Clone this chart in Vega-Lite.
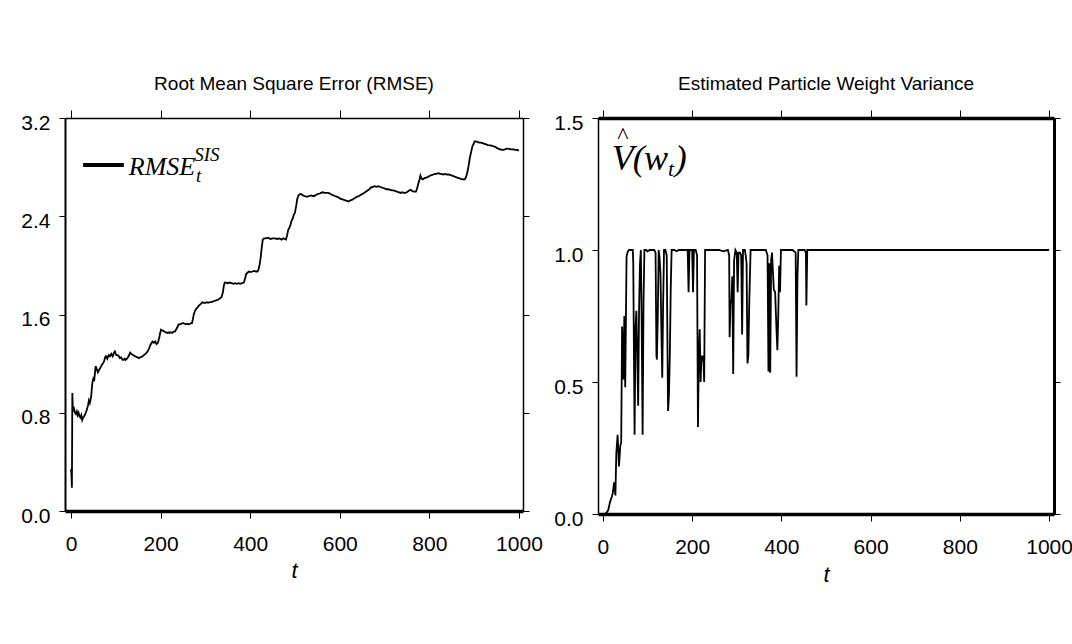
{
  "$schema": "https://vega.github.io/schema/vega-lite/v6.json",
  "background": "white",
  "padding": {"left": 20, "top": 74, "right": 0, "bottom": 10},
  "spacing": 10,
  "config": {
    "view": {"stroke": null},
    "axis": {"grid": false, "domainColor": "black", "tickColor": "black", "labelColor": "black", "labelFont": "Liberation Sans", "labelFontSize": 21, "tickSize": 7, "tickWidth": 1, "domainWidth": 1.5, "labelPadding": 9, "titleColor": "black", "labelFlush": false},
    "title": {"font": "Liberation Sans", "fontSize": 19, "fontWeight": "normal", "color": "black", "offset": 16}
  },
  "datasets": {
    "rmse": [
      {"t":0,"v":0.34},{"t":1,"v":0.30},{"t":2,"v":0.19},{"t":3,"v":0.96},{"t":4,"v":0.85},{"t":5,"v":0.81},{"t":7,"v":0.83},{"t":9,"v":0.80},{"t":11,"v":0.79},{"t":13,"v":0.81},{"t":15,"v":0.78},{"t":17,"v":0.80},{"t":19,"v":0.77},{"t":21,"v":0.76},{"t":23,"v":0.78},{"t":25,"v":0.74},{"t":27,"v":0.76},{"t":29,"v":0.77},{"t":32,"v":0.79},{"t":35,"v":0.82},{"t":38,"v":0.86},{"t":40,"v":0.90},{"t":42,"v":0.88},{"t":45,"v":0.93},{"t":47,"v":1.02},{"t":48,"v":1.05},{"t":50,"v":1.08},{"t":52,"v":1.07},{"t":55,"v":1.18},{"t":57,"v":1.16},{"t":60,"v":1.13},{"t":63,"v":1.15},{"t":66,"v":1.17},{"t":69,"v":1.19},{"t":71,"v":1.20},{"t":74,"v":1.22},{"t":76,"v":1.25},{"t":78,"v":1.26},{"t":81,"v":1.24},{"t":84,"v":1.27},{"t":87,"v":1.26},{"t":90,"v":1.28},{"t":93,"v":1.26},{"t":96,"v":1.29},{"t":98,"v":1.30},{"t":101,"v":1.27},{"t":104,"v":1.27},{"t":107,"v":1.26},{"t":109,"v":1.245},{"t":112,"v":1.25},{"t":115,"v":1.23},{"t":117,"v":1.23},{"t":120,"v":1.24},{"t":122,"v":1.23},{"t":124,"v":1.236},{"t":127,"v":1.25},{"t":130,"v":1.27},{"t":132,"v":1.29},{"t":135,"v":1.28},{"t":138,"v":1.27},{"t":140,"v":1.267},{"t":143,"v":1.26},{"t":146,"v":1.255},{"t":149,"v":1.25},{"t":151,"v":1.245},{"t":154,"v":1.25},{"t":157,"v":1.255},{"t":160,"v":1.26},{"t":163,"v":1.27},{"t":166,"v":1.28},{"t":169,"v":1.29},{"t":171,"v":1.30},{"t":174,"v":1.32},{"t":177,"v":1.35},{"t":180,"v":1.37},{"t":182,"v":1.38},{"t":185,"v":1.37},{"t":188,"v":1.38},{"t":191,"v":1.36},{"t":194,"v":1.37},{"t":197,"v":1.41},{"t":199,"v":1.45},{"t":201,"v":1.477},{"t":204,"v":1.47},{"t":207,"v":1.465},{"t":209,"v":1.46},{"t":212,"v":1.455},{"t":215,"v":1.45},{"t":218,"v":1.455},{"t":220,"v":1.45},{"t":223,"v":1.455},{"t":226,"v":1.45},{"t":229,"v":1.46},{"t":232,"v":1.46},{"t":235,"v":1.48},{"t":238,"v":1.50},{"t":240,"v":1.52},{"t":243,"v":1.52},{"t":246,"v":1.525},{"t":249,"v":1.53},{"t":251,"v":1.53},{"t":254,"v":1.525},{"t":257,"v":1.52},{"t":260,"v":1.525},{"t":263,"v":1.52},{"t":266,"v":1.525},{"t":268,"v":1.53},{"t":270,"v":1.53},{"t":272,"v":1.56},{"t":274,"v":1.60},{"t":277,"v":1.63},{"t":280,"v":1.65},{"t":282,"v":1.655},{"t":285,"v":1.67},{"t":288,"v":1.68},{"t":291,"v":1.69},{"t":293,"v":1.70},{"t":296,"v":1.695},{"t":300,"v":1.695},{"t":303,"v":1.70},{"t":306,"v":1.695},{"t":310,"v":1.70},{"t":313,"v":1.70},{"t":316,"v":1.705},{"t":320,"v":1.71},{"t":324,"v":1.715},{"t":328,"v":1.72},{"t":332,"v":1.73},{"t":336,"v":1.74},{"t":339,"v":1.78},{"t":341,"v":1.83},{"t":343,"v":1.86},{"t":346,"v":1.86},{"t":350,"v":1.855},{"t":354,"v":1.86},{"t":358,"v":1.855},{"t":362,"v":1.85},{"t":366,"v":1.855},{"t":370,"v":1.85},{"t":374,"v":1.855},{"t":378,"v":1.85},{"t":382,"v":1.855},{"t":386,"v":1.86},{"t":389,"v":1.90},{"t":391,"v":1.93},{"t":394,"v":1.94},{"t":397,"v":1.95},{"t":401,"v":1.945},{"t":405,"v":1.95},{"t":409,"v":1.955},{"t":413,"v":1.95},{"t":416,"v":1.95},{"t":418,"v":1.96},{"t":420,"v":1.986},{"t":423,"v":2.05},{"t":425,"v":2.12},{"t":428,"v":2.207},{"t":431,"v":2.22},{"t":435,"v":2.22},{"t":440,"v":2.225},{"t":445,"v":2.215},{"t":450,"v":2.22},{"t":455,"v":2.22},{"t":460,"v":2.215},{"t":465,"v":2.22},{"t":470,"v":2.21},{"t":474,"v":2.22},{"t":477,"v":2.215},{"t":480,"v":2.21},{"t":482,"v":2.24},{"t":485,"v":2.29},{"t":488,"v":2.31},{"t":490,"v":2.33},{"t":493,"v":2.37},{"t":495,"v":2.38},{"t":497,"v":2.41},{"t":500,"v":2.43},{"t":503,"v":2.49},{"t":505,"v":2.54},{"t":508,"v":2.57},{"t":511,"v":2.58},{"t":514,"v":2.58},{"t":518,"v":2.57},{"t":521,"v":2.565},{"t":525,"v":2.56},{"t":528,"v":2.56},{"t":532,"v":2.565},{"t":536,"v":2.57},{"t":540,"v":2.565},{"t":543,"v":2.565},{"t":547,"v":2.575},{"t":551,"v":2.58},{"t":555,"v":2.585},{"t":558,"v":2.59},{"t":562,"v":2.595},{"t":566,"v":2.59},{"t":570,"v":2.59},{"t":574,"v":2.59},{"t":578,"v":2.585},{"t":582,"v":2.575},{"t":586,"v":2.57},{"t":589,"v":2.565},{"t":593,"v":2.56},{"t":597,"v":2.555},{"t":600,"v":2.545},{"t":604,"v":2.54},{"t":608,"v":2.535},{"t":612,"v":2.53},{"t":616,"v":2.525},{"t":620,"v":2.52},{"t":624,"v":2.53},{"t":628,"v":2.535},{"t":632,"v":2.545},{"t":635,"v":2.55},{"t":639,"v":2.56},{"t":643,"v":2.565},{"t":647,"v":2.575},{"t":650,"v":2.58},{"t":654,"v":2.59},{"t":658,"v":2.60},{"t":662,"v":2.61},{"t":666,"v":2.62},{"t":670,"v":2.635},{"t":674,"v":2.64},{"t":678,"v":2.645},{"t":682,"v":2.64},{"t":686,"v":2.645},{"t":689,"v":2.64},{"t":693,"v":2.635},{"t":697,"v":2.63},{"t":701,"v":2.625},{"t":704,"v":2.62},{"t":708,"v":2.62},{"t":712,"v":2.615},{"t":716,"v":2.61},{"t":720,"v":2.61},{"t":724,"v":2.605},{"t":728,"v":2.60},{"t":732,"v":2.595},{"t":735,"v":2.59},{"t":739,"v":2.595},{"t":743,"v":2.59},{"t":747,"v":2.59},{"t":751,"v":2.60},{"t":755,"v":2.61},{"t":758,"v":2.615},{"t":762,"v":2.605},{"t":766,"v":2.60},{"t":770,"v":2.60},{"t":772,"v":2.62},{"t":775,"v":2.66},{"t":778,"v":2.70},{"t":780,"v":2.73},{"t":782,"v":2.71},{"t":785,"v":2.70},{"t":789,"v":2.71},{"t":793,"v":2.715},{"t":797,"v":2.72},{"t":801,"v":2.73},{"t":805,"v":2.735},{"t":809,"v":2.74},{"t":812,"v":2.745},{"t":816,"v":2.745},{"t":820,"v":2.75},{"t":824,"v":2.745},{"t":827,"v":2.745},{"t":831,"v":2.74},{"t":835,"v":2.745},{"t":839,"v":2.74},{"t":843,"v":2.74},{"t":847,"v":2.735},{"t":851,"v":2.73},{"t":855,"v":2.725},{"t":858,"v":2.72},{"t":862,"v":2.715},{"t":866,"v":2.71},{"t":870,"v":2.705},{"t":874,"v":2.70},{"t":879,"v":2.70},{"t":882,"v":2.72},{"t":885,"v":2.76},{"t":888,"v":2.82},{"t":890,"v":2.87},{"t":893,"v":2.92},{"t":896,"v":2.97},{"t":899,"v":2.99},{"t":901,"v":3.01},{"t":904,"v":3.01},{"t":907,"v":3.005},{"t":911,"v":3.0},{"t":915,"v":3.0},{"t":919,"v":2.995},{"t":923,"v":2.99},{"t":927,"v":2.985},{"t":931,"v":2.98},{"t":935,"v":2.978},{"t":939,"v":2.975},{"t":943,"v":2.97},{"t":947,"v":2.965},{"t":951,"v":2.955},{"t":954,"v":2.95},{"t":958,"v":2.945},{"t":962,"v":2.94},{"t":965,"v":2.94},{"t":969,"v":2.945},{"t":973,"v":2.95},{"t":977,"v":2.95},{"t":981,"v":2.945},{"t":985,"v":2.945},{"t":988,"v":2.945},{"t":992,"v":2.94},{"t":996,"v":2.94},{"t":1000,"v":2.935}
    ],
    "wvar": [
      {"t":0,"v":0},{"t":5,"v":0},{"t":8,"v":0.005},{"t":12,"v":0.015},{"t":16,"v":0.046},{"t":19,"v":0.06},{"t":22,"v":0.078},{"t":25,"v":0.12},{"t":28,"v":0.07},{"t":30,"v":0.23},{"t":33,"v":0.30},{"t":36,"v":0.18},{"t":39,"v":0.26},{"t":41,"v":0.27},{"t":43,"v":0.71},{"t":46,"v":0.51},{"t":48,"v":0.75},{"t":50,"v":0.48},{"t":53,"v":0.975},{"t":55,"v":0.99},{"t":58,"v":1.0},{"t":63,"v":1.0},{"t":67,"v":1.0},{"t":68,"v":0.95},{"t":71,"v":0.30},{"t":73,"v":0.70},{"t":75,"v":0.77},{"t":77,"v":0.60},{"t":79,"v":0.41},{"t":81,"v":0.77},{"t":83,"v":0.945},{"t":85,"v":1.0},{"t":87,"v":0.70},{"t":89,"v":0.30},{"t":91,"v":0.80},{"t":93,"v":1.0},{"t":97,"v":1.0},{"t":100,"v":0.995},{"t":105,"v":1.0},{"t":110,"v":1.0},{"t":115,"v":1.0},{"t":118,"v":0.99},{"t":120,"v":0.60},{"t":121,"v":0.585},{"t":123,"v":0.75},{"t":125,"v":1.0},{"t":127,"v":0.97},{"t":129,"v":0.91},{"t":131,"v":0.70},{"t":133,"v":0.516},{"t":135,"v":0.80},{"t":137,"v":1.0},{"t":140,"v":1.0},{"t":143,"v":0.98},{"t":146,"v":0.39},{"t":148,"v":0.45},{"t":150,"v":0.60},{"t":152,"v":0.85},{"t":154,"v":1.0},{"t":160,"v":1.0},{"t":165,"v":0.995},{"t":170,"v":1.0},{"t":180,"v":1.0},{"t":190,"v":1.0},{"t":192,"v":0.84},{"t":194,"v":1.0},{"t":200,"v":1.0},{"t":202,"v":0.84},{"t":204,"v":1.0},{"t":208,"v":1.0},{"t":211,"v":0.98},{"t":213,"v":0.33},{"t":215,"v":0.60},{"t":217,"v":0.70},{"t":219,"v":0.50},{"t":221,"v":0.60},{"t":223,"v":0.58},{"t":225,"v":0.60},{"t":227,"v":0.50},{"t":229,"v":1.0},{"t":240,"v":1.0},{"t":250,"v":1.0},{"t":260,"v":1.0},{"t":270,"v":0.995},{"t":280,"v":1.0},{"t":283,"v":0.98},{"t":284,"v":0.67},{"t":286,"v":0.80},{"t":288,"v":0.81},{"t":290,"v":0.90},{"t":292,"v":0.53},{"t":294,"v":0.96},{"t":297,"v":1.0},{"t":300,"v":0.99},{"t":302,"v":0.84},{"t":304,"v":0.99},{"t":307,"v":0.99},{"t":310,"v":0.98},{"t":312,"v":0.68},{"t":314,"v":1.0},{"t":318,"v":1.0},{"t":320,"v":0.98},{"t":322,"v":0.95},{"t":324,"v":0.57},{"t":326,"v":0.60},{"t":328,"v":0.80},{"t":331,"v":1.0},{"t":340,"v":1.0},{"t":350,"v":1.0},{"t":360,"v":1.0},{"t":365,"v":1.0},{"t":369,"v":0.98},{"t":371,"v":0.54},{"t":373,"v":0.95},{"t":375,"v":0.535},{"t":377,"v":0.96},{"t":379,"v":0.99},{"t":381,"v":0.92},{"t":383,"v":0.85},{"t":386,"v":0.84},{"t":389,"v":0.70},{"t":391,"v":0.62},{"t":393,"v":0.75},{"t":395,"v":0.94},{"t":397,"v":0.84},{"t":399,"v":1.0},{"t":405,"v":1.0},{"t":415,"v":1.0},{"t":425,"v":1.0},{"t":432,"v":0.99},{"t":434,"v":0.52},{"t":436,"v":0.90},{"t":438,"v":1.0},{"t":445,"v":1.0},{"t":452,"v":1.0},{"t":455,"v":0.99},{"t":456,"v":0.79},{"t":458,"v":1.0},{"t":500,"v":1.0},{"t":550,"v":1.0},{"t":600,"v":1.0},{"t":650,"v":1.0},{"t":700,"v":1.0},{"t":750,"v":1.0},{"t":800,"v":1.0},{"t":850,"v":1.0},{"t":900,"v":1.0},{"t":950,"v":1.0},{"t":1000,"v":1.0}
    ],
    "leg": [{"t": 27, "t2": 118, "v": 2.817}],
    "ann1big": [{"t": 129, "v": 2.736, "label": "RMSE"}],
    "ann1small": [{"t": 275, "v": 2.85, "label": "SIS"}, {"t": 279, "v": 2.68, "label": "t"}],
    "ann2big": [{"t": 20, "v": 1.303, "label": "V"}, {"t": 67, "v": 1.303, "label": "("}, {"t": 92, "v": 1.303, "label": "w"}, {"t": 161, "v": 1.303, "label": ")"}],
    "ann2small": [{"t": 146, "v": 1.28, "label": "t"}],
    "ann2hat": [{"t": 45, "v": 1.405, "label": "^"}]
  },
  "hconcat": [
    {
      "width": 458,
      "height": 393,
      "title": {"text": "Root Mean Square Error (RMSE)"},
      "resolve": {"axis": {"x": "independent", "y": "independent"}},
      "layer": [
        {
          "data": {"name": "rmse"},
          "mark": {"type": "line", "color": "black", "strokeWidth": 1.8},
          "encoding": {
            "x": {"field": "t", "type": "quantitative", "scale": {"domain": [-13.4, 1009], "nice": false, "zero": false},
                  "axis": {"orient": "bottom", "values": [0, 200, 400, 600, 800, 1000], "format": "d", "title": "t", "titleFont": "Liberation Sans", "titleFontStyle": "italic", "titleFontWeight": "normal", "titleFontSize": 22, "titlePadding": 6, "domainWidth": 3.5, "labelPadding": 15}},
            "y": {"field": "v", "type": "quantitative", "scale": {"domain": [0, 3.2], "nice": false, "zero": false},
                  "axis": {"orient": "left", "values": [0, 0.8, 1.6, 2.4, 3.2], "format": ".1f", "title": null, "domainWidth": 2, "tickSize": 6, "labelOffset": 5}}
          }
        },
        {
          "data": {"name": "rmse"},
          "mark": {"type": "line", "opacity": 0},
          "encoding": {
            "x": {"field": "t", "type": "quantitative", "axis": {"orient": "top", "values": [0, 200, 400, 600, 800, 1000], "labels": false, "title": null, "domainWidth": 1.5, "tickSize": 8}},
            "y": {"field": "v", "type": "quantitative", "axis": {"orient": "right", "values": [0, 0.8, 1.6, 2.4, 3.2], "labels": false, "title": null, "domainWidth": 1.5, "tickSize": 6}}
          }
        },
        {
          "data": {"name": "leg"},
          "mark": {"type": "rule", "color": "black", "strokeWidth": 4},
          "encoding": {
            "x": {"field": "t", "type": "quantitative", "axis": null},
            "x2": {"field": "t2"},
            "y": {"field": "v", "type": "quantitative", "axis": null}
          }
        },
        {
          "data": {"name": "ann1big"},
          "mark": {"type": "text", "font": "Liberation Serif", "fontStyle": "italic", "fontSize": 26, "align": "left", "baseline": "alphabetic", "color": "black"},
          "encoding": {
            "x": {"field": "t", "type": "quantitative", "axis": null},
            "y": {"field": "v", "type": "quantitative", "axis": null},
            "text": {"field": "label"}
          }
        },
        {
          "data": {"name": "ann1small"},
          "mark": {"type": "text", "font": "Liberation Serif", "fontStyle": "italic", "fontSize": 19, "align": "left", "baseline": "alphabetic", "color": "black"},
          "encoding": {
            "x": {"field": "t", "type": "quantitative", "axis": null},
            "y": {"field": "v", "type": "quantitative", "axis": null},
            "text": {"field": "label"}
          }
        }
      ]
    },
    {
      "width": 456,
      "height": 396,
      "title": {"text": "Estimated Particle Weight Variance"},
      "resolve": {"axis": {"x": "independent", "y": "independent"}},
      "layer": [
        {
          "data": {"name": "wvar"},
          "mark": {"type": "line", "color": "black", "strokeWidth": 1.8},
          "encoding": {
            "x": {"field": "t", "type": "quantitative", "scale": {"domain": [-11, 1011], "nice": false, "zero": false},
                  "axis": {"orient": "bottom", "values": [0, 200, 400, 600, 800, 1000], "format": "d", "title": "t", "titleFont": "Liberation Sans", "titleFontStyle": "italic", "titleFontWeight": "normal", "titleFontSize": 22, "titlePadding": 7, "domainWidth": 3.5, "labelPadding": 15}},
            "y": {"field": "v", "type": "quantitative", "scale": {"domain": [0, 1.5], "nice": false, "zero": false},
                  "axis": {"orient": "left", "values": [0, 0.5, 1.0, 1.5], "format": ".1f", "title": null, "domainWidth": 1.5, "tickSize": 6, "labelOffset": 5}}
          }
        },
        {
          "data": {"name": "wvar"},
          "mark": {"type": "line", "opacity": 0},
          "encoding": {
            "x": {"field": "t", "type": "quantitative", "axis": {"orient": "top", "values": [0, 200, 400, 600, 800, 1000], "labels": false, "title": null, "domainWidth": 3.5, "tickSize": 8}},
            "y": {"field": "v", "type": "quantitative", "axis": {"orient": "right", "values": [0, 0.5, 1.0, 1.5], "labels": false, "title": null, "domainWidth": 3, "tickSize": 6}}
          }
        },
        {
          "data": {"name": "ann2big"},
          "mark": {"type": "text", "font": "Liberation Serif", "fontStyle": "italic", "fontSize": 36, "align": "left", "baseline": "alphabetic", "color": "black"},
          "encoding": {
            "x": {"field": "t", "type": "quantitative", "axis": null},
            "y": {"field": "v", "type": "quantitative", "axis": null},
            "text": {"field": "label"}
          }
        },
        {
          "data": {"name": "ann2small"},
          "mark": {"type": "text", "font": "Liberation Serif", "fontStyle": "italic", "fontSize": 22, "align": "left", "baseline": "alphabetic", "color": "black"},
          "encoding": {
            "x": {"field": "t", "type": "quantitative", "axis": null},
            "y": {"field": "v", "type": "quantitative", "axis": null},
            "text": {"field": "label"}
          }
        },
        {
          "data": {"name": "ann2hat"},
          "mark": {"type": "text", "font": "Liberation Serif", "fontSize": 24, "align": "center", "baseline": "alphabetic", "color": "black"},
          "encoding": {
            "x": {"field": "t", "type": "quantitative", "axis": null},
            "y": {"field": "v", "type": "quantitative", "axis": null},
            "text": {"field": "label"}
          }
        }
      ]
    }
  ]
}
